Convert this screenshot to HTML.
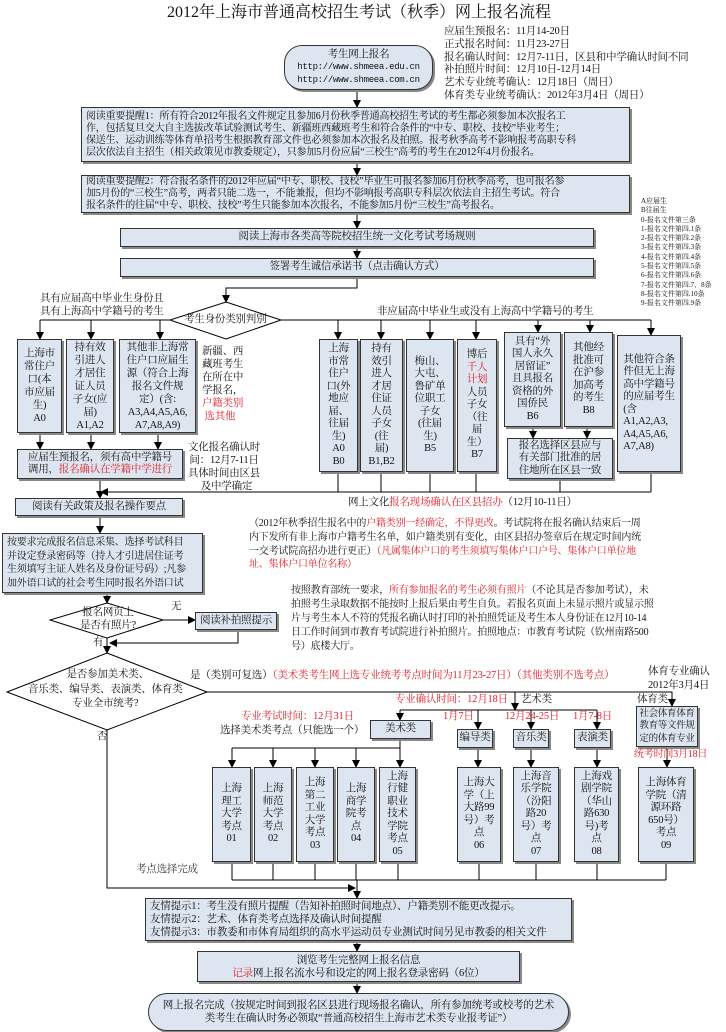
<!DOCTYPE html>
<html><head><meta charset="utf-8"><style>
*{margin:0;padding:0;box-sizing:border-box}
body{width:726px;height:1032px;position:relative;background:#fff;font-family:"Liberation Serif","Noto Serif CJK SC",serif;font-size:10.5px;color:#111;overflow:hidden}
.b{position:absolute;background:#dde6f0;border:1.3px solid #333;box-shadow:2px 2px 0 #888;display:flex;flex-direction:column;justify-content:center;align-items:center;text-align:center;line-height:12.5px;white-space:nowrap;letter-spacing:-0.2px}
.l{align-items:flex-start;text-align:left;padding-left:4px}
.t{position:absolute;line-height:12.5px;white-space:nowrap;letter-spacing:-0.2px}
.r{color:#e0202a}
.v{line-height:13px}
svg{position:absolute;left:0;top:0}
</style></head><body>
<svg width="726" height="1032">
<defs><marker id="a" markerWidth="8" markerHeight="8" refX="7" refY="4" orient="auto" markerUnits="userSpaceOnUse"><path d="M0,0 L8,4 L0,8 z" fill="#000"/></marker></defs>
<g fill="none" stroke="#000" stroke-width="1">
<polygon points="226,302 281,320 226,339 170,320" fill="#fff"/>
<polygon points="107,603 163,620 107,638 50,620" fill="#fff"/>
<polygon points="107,653 207,692 107,730 7,692" fill="#fff"/>
<path d="M357 90V107" marker-end="url(#a)"/>
<path d="M357 162V175" marker-end="url(#a)"/>
<path d="M357 213V228" marker-end="url(#a)"/>
<path d="M357 247V258" marker-end="url(#a)"/>
<path d="M357 277V288H226V302" marker-end="url(#a)"/>
<path d="M40 320H170M281 320H651"/>
<path d="M40 320V339" marker-end="url(#a)"/><path d="M91 320V339" marker-end="url(#a)"/><path d="M160 320V339" marker-end="url(#a)"/>
<path d="M338 320V339" marker-end="url(#a)"/><path d="M381 320V339" marker-end="url(#a)"/><path d="M430 320V339" marker-end="url(#a)"/><path d="M476 320V339" marker-end="url(#a)"/>
<path d="M538 320V332" marker-end="url(#a)"/><path d="M590 320V332" marker-end="url(#a)"/><path d="M651 320V335" marker-end="url(#a)"/>
<path d="M40 433V449" marker-end="url(#a)"/><path d="M91 433V449" marker-end="url(#a)"/><path d="M158 433V449" marker-end="url(#a)"/>
<path d="M533 427V438" marker-end="url(#a)"/><path d="M587 427V438" marker-end="url(#a)"/>
<path d="M338 472V492M381 472V492M430 472V492M476 472V492M560 479V492M651 472V492"/>
<path d="M651 492H101" marker-end="url(#a)"/>
<path d="M100 479V498" marker-end="url(#a)"/>
<path d="M100 516V533" marker-end="url(#a)"/>
<path d="M107 593V603" marker-end="url(#a)"/>
<path d="M163 620H195" marker-end="url(#a)"/>
<path d="M238 630V643H110" marker-end="url(#a)"/>
<path d="M107 638V653" marker-end="url(#a)"/>
<path d="M207 692H672V706" marker-end="url(#a)"/>
<path d="M515 692V710" marker-end="url(#a)"/>
<path d="M400 710H597"/>
<path d="M400 710V720" marker-end="url(#a)"/><path d="M478 710V729" marker-end="url(#a)"/><path d="M531 710V729" marker-end="url(#a)"/><path d="M597 710V729" marker-end="url(#a)"/>
<path d="M400 739V748M232 748H400"/>
<path d="M232 748V767" marker-end="url(#a)"/><path d="M273 748V767" marker-end="url(#a)"/><path d="M315 748V767" marker-end="url(#a)"/><path d="M356 748V767" marker-end="url(#a)"/><path d="M400 748V767" marker-end="url(#a)"/>
<path d="M478 748V767" marker-end="url(#a)"/><path d="M531 748V767" marker-end="url(#a)"/><path d="M597 748V767" marker-end="url(#a)"/><path d="M667 747V767" marker-end="url(#a)"/>
<path d="M232 862V880M273 862V880M315 862V880M356 862V880M398 862V880M479 862V880M536 862V880M597 862V880M666 862V880M232 880H666"/>
<path d="M107 730V888H355" marker-end="url(#a)"/>
<path d="M357 880V898" marker-end="url(#a)"/>
<path d="M357 941V951" marker-end="url(#a)"/>
<path d="M357 982V993" marker-end="url(#a)"/>
</g>
</svg>

<div class="t" style="left:167px;top:3px;font-size:16px;line-height:20px;letter-spacing:0">2012年上海市普通高校招生考试（秋季）网上报名流程</div>
<div class="t" style="left:444px;top:26px;line-height:12.8px">应届生预报名：11月14-20日<br>正式报名时间：11月23-27日<br>报名确认时间：12月7-11日，区县和中学确认时间不同<br>补拍照片时间：12月10日-12月14日<br>艺术专业统考确认：12月18日（周日）<br>体育类专业统考确认：2012年3月4日（周日）</div>
<div class="b" style="left:284px;top:45px;width:149px;height:45px;border-radius:18px;line-height:13px">考生网上报名<span style="font-family:'Liberation Mono',monospace;font-size:9px;letter-spacing:-0.3px">http://www.shmeea.edu.cn</span><span style="font-family:'Liberation Mono',monospace;font-size:9px;letter-spacing:-0.3px">http://www.shmeea.com.cn</span></div>
<div class="b l" style="left:81px;top:107px;width:549px;height:55px;line-height:12px;font-size:10px">阅读重要提醒1：所有符合2012年报名文件规定且参加6月份秋季普通高校招生考试的考生都必须参加本次报名工<br>作，包括复旦交大自主选拔改革试验测试考生、新疆班西藏班考生和符合条件的“中专、职校、技校”毕业考生；<br>保送生、运动训练等体育单招考生根据教育部文件也必须参加本次报名及拍照。报考秋季高考不影响报考高职专科<br>层次依法自主招生（相关政策见市教委规定），只参加5月份应届“三校生”高考的考生在2012年4月份报名。</div>
<div class="b l" style="left:81px;top:175px;width:549px;height:38px;line-height:12px;font-size:10px">阅读重要提醒2：符合报名条件的2012年应届“中专、职校、技校”毕业生可报名参加6月份秋季高考，也可报名参<br>加5月份的“三校生”高考，两者只能二选一，不能兼报，但均不影响报考高职专科层次依法自主招生考试。符合<br>报名条件的往届“中专、职校、技校”考生只能参加本次报名，不能参加5月份“三校生”高考报名。</div>
<div class="t" style="left:641px;top:197px;font-size:7px;line-height:9.3px;letter-spacing:0">A应届生<br>B往届生<br>0-报名文件第三条<br>1-报名文件第四.1条<br>2-报名文件第四.2条<br>3-报名文件第四.3条<br>4-报名文件第四.4条<br>5-报名文件第四.5条<br>6-报名文件第四.6条<br>7-报名文件第四.7、8条<br>8-报名文件第四.10条<br>9-报名文件第四.9条</div>
<div class="b" style="left:120px;top:228px;width:474px;height:19px">阅读上海市各类高等院校招生统一文化考试考场规则</div>
<div class="b" style="left:120px;top:258px;width:474px;height:19px">签署考生诚信承诺书（点击确认方式）</div>
<div class="t" style="left:40px;top:293px">具有应届高中毕业生身份且<br>具有上海高中学籍号的考生</div>
<div class="t" style="left:184px;top:314px">考生身份类别判别</div>
<div class="t" style="left:377px;top:306px">非应届高中毕业生或没有上海高中学籍号的考生</div>

<div class="b v" style="left:17px;top:339px;width:45px;height:94px">上海市<br>常住户<br>口(本<br>市应届<br>生)<br>A0</div>
<div class="b v" style="left:66px;top:339px;width:48px;height:94px">持有效<br>引进人<br>才居住<br>证人员<br>子女(应<br>届)<br>A1,A2</div>
<div class="b v" style="left:119px;top:339px;width:77px;height:94px">其他非上海常<br>住户口应届生<br>源（符合上海<br>报名文件规<br>定）(含:<br>A3,A4,A5,A6,<br>A7,A8,A9)</div>
<div class="t v" style="left:202px;top:345px">新疆、西<br>藏班考生<br>在所在中<br>学报名，<br><span class="r">户籍类别</span><br><span class="r">&nbsp;选其他</span></div>
<div class="b" style="left:17px;top:449px;width:166px;height:30px">应届生预报名，须有高中学籍号<br><span>调用，<span class="r">报名确认在学籍中学进行</span></span></div>
<div class="t v" style="left:188px;top:441px;text-align:center">文化报名确认时<br>间：12月7-11日<br>具体时间由区县<br>&nbsp;&nbsp;及中学确定</div>

<div class="b" style="left:319px;top:339px;width:39px;height:133px">上海<br>市常<br>住户<br>口(外<br>地应<br>届、<br>往届<br>生)<br>A0<br>B0</div>
<div class="b" style="left:360px;top:339px;width:43px;height:133px">持有<br>效引<br>进人<br>才居<br>住证<br>人员<br>子女<br>(往<br>届)<br>B1,B2</div>
<div class="b" style="left:406px;top:339px;width:48px;height:133px">梅山、<br>大屯、<br>鲁矿单<br>位职工<br>子女<br>(往届<br>生)<br>B5</div>
<div class="b" style="left:457px;top:339px;width:40px;height:133px">博后<br><span class="r">千人</span><span class="r">计划</span>人员<br>子女<br>（往<br>届<br>生）<br>B7</div>
<div class="b" style="left:504px;top:332px;width:57px;height:95px">具有“外<br>国人永久<br>居留证”<br>且具报名<br>资格的外<br>国侨民<br>B6</div>
<div class="b" style="left:564px;top:332px;width:49px;height:95px">其他经<br>批准可<br>在沪参<br>加高考<br>的考生<br>B8</div>
<div class="b" style="left:507px;top:438px;width:106px;height:41px">报名选择区县应与<br>有关部门批准的居<br>住地所在区县一致</div>
<div class="b" style="left:617px;top:335px;width:64px;height:137px"><div style="text-align:left">其他符合条<br>件但无上海<br>高中学籍号<br>的应届考生<br>(含<br>A1,A2,A3,<br>A4,A5,A6,<br>A7,A8)</div></div>
<div class="t" style="left:348px;top:497px">网上文化<span class="r">报名现场确认在区县招办</span>（12月10-11日）</div>

<div class="b" style="left:15px;top:498px;width:168px;height:18px">阅读有关政策及报名操作要点</div>
<div class="b l" style="left:2px;top:533px;width:201px;height:60px;line-height:13.5px;font-size:10px">按要求完成报名信息采集、选择考试科目<br>并设定登录密码等（持人才引进居住证考<br>生须填写主证人姓名及身份证号码）;凡参<br>加外语口试的社会考生同时报名外语口试</div>
<div class="t" style="left:249px;top:517px;line-height:13.8px;font-size:10px">（2012年秋季招生报名中的<span class="r">户籍类别一经确定，不得更改</span>。考试院将在报名确认结束后一周<br>内下发所有非上海市户籍考生名单，如户籍类别有变化，由区县招办签章后在规定时间内统<br>一交考试院高招办进行更正）<span class="r">（凡属集体户口的考生须填写集体户口户号、集体户口单位地</span><br><span class="r">址、集体户口单位名称）</span></div>
<div class="t" style="left:80px;top:607px;text-align:center">报名网页上<br>是否有照片?</div>
<div class="t" style="left:171px;top:601px">无</div>
<div class="b" style="left:195px;top:612px;width:82px;height:18px">阅读补拍照提示</div>
<div class="t" style="left:291px;top:584px;line-height:14px;font-size:10px">按照教育部统一要求，<span class="r">所有参加报名的考生必须有照片</span>（不论其是否参加考试），未<br>拍照考生录取数据不能按时上报后果由考生自负。若报名页面上未显示照片或显示照<br>片与考生本人不符的凭报名确认时打印的补拍照凭证及考生本人身份证在12月10-14<br>日工作时间到市教育考试院进行补拍照片。拍照地点：市教育考试院（钦州南路500<br>号）底楼大厅。</div>
<div class="t" style="left:93px;top:637px">有</div>
<div class="t" style="left:28px;top:668px;text-align:center;line-height:14.5px">&nbsp;&nbsp;是否参加美术类、<br>音乐类、编导类、表演类、体育类<br>专业全市统考?</div>
<div class="t" style="left:190px;top:670px">是（类别可复选）<span class="r">（美术类考生网上选专业统考考点时间为11月23-27日）（其他类别不选考点）</span></div>
<div class="t" style="left:648px;top:665px;line-height:13.5px">体育专业确认<br>2012年3月4日</div>
<div class="t" style="left:97px;top:731px">否</div>
<div class="t r" style="left:395px;top:694px">专业确认时间：12月18日</div>
<div class="t" style="left:521px;top:694px">艺术类</div>
<div class="t" style="left:637px;top:694px">体育类</div>
<div class="b" style="left:636px;top:706px;width:62px;height:41px;font-size:9.5px;letter-spacing:-0.3px">社会体育体育<br>教育等文件规<br>定的体育专业</div>
<div class="t r" style="left:634px;top:749px;font-size:10px">统考时间3月18日</div>
<div class="t r" style="left:241px;top:711px">专业考试时间：12月31日</div>
<div class="t" style="left:220px;top:725px">选择美术类考点（只能选一个）</div>
<div class="b" style="left:370px;top:720px;width:61px;height:19px">美术类</div>
<div class="t r" style="left:443px;top:711px">1月7日</div>
<div class="t r" style="left:505px;top:711px">12月24-25日</div>
<div class="t r" style="left:573px;top:711px">1月7-8日</div>
<div class="b" style="left:457px;top:729px;width:36px;height:19px">编导类</div>
<div class="b" style="left:513px;top:729px;width:36px;height:19px">音乐类</div>
<div class="b" style="left:574px;top:729px;width:37px;height:19px">表演类</div>

<div class="b" style="left:212px;top:767px;width:39px;height:95px">上海<br>理工<br>大学<br>考点<br>01</div>
<div class="b" style="left:254px;top:767px;width:38px;height:95px">上海<br>师范<br>大学<br>考点<br>02</div>
<div class="b" style="left:296px;top:767px;width:38px;height:95px">上海<br>第二<br>工业<br>大学<br>考点<br>03</div>
<div class="b" style="left:337px;top:767px;width:38px;height:95px">上海<br>商学<br>院考<br>点<br>04</div>
<div class="b" style="left:379px;top:767px;width:37px;height:95px">上海<br>行健<br>职业<br>技术<br>学院<br>考点<br>05</div>
<div class="b" style="left:457px;top:767px;width:44px;height:95px">上海大<br>学（上<br>大路99<br>号）考<br>点<br>06</div>
<div class="b" style="left:513px;top:767px;width:46px;height:95px">上海音<br>乐学院<br>（汾阳<br>路20<br>号）考<br>点<br>07</div>
<div class="b" style="left:574px;top:767px;width:45px;height:95px">上海戏<br>剧学院<br>（华山<br>路630<br>号)考<br>点<br>08</div>
<div class="b" style="left:638px;top:767px;width:56px;height:95px">上海体育<br>学院（清<br>源环路<br>650号）<br>考点<br>09</div>
<div class="t" style="left:136px;top:864px;color:#333">考点选择完成</div>

<div class="b l" style="left:145px;top:898px;width:427px;height:43px;line-height:13px">友情提示1：考生没有照片提醒（告知补拍照时间地点）、户籍类别不能更改提示。<br>友情提示2：艺术、体育类考点选择及确认时间提醒<br>友情提示3：市教委和市体育局组织的高水平运动员专业测试时间另见市教委的相关文件</div>
<div class="b" style="left:197px;top:951px;width:323px;height:31px;line-height:13px">浏览考生完整网上报名信息<br><span><span class="r">记录</span>网上报名流水号和设定的网上报名登录密码（6位）</span></div>
<div class="b" style="left:148px;top:993px;width:421px;height:38px;border-radius:19px;line-height:13px">网上报名完成（按规定时间到报名区县进行现场报名确认，所有参加统考或校考的艺术<br>类考生在确认时务必领取“普通高校招生上海市艺术类专业报考证”）</div>
</body></html>
